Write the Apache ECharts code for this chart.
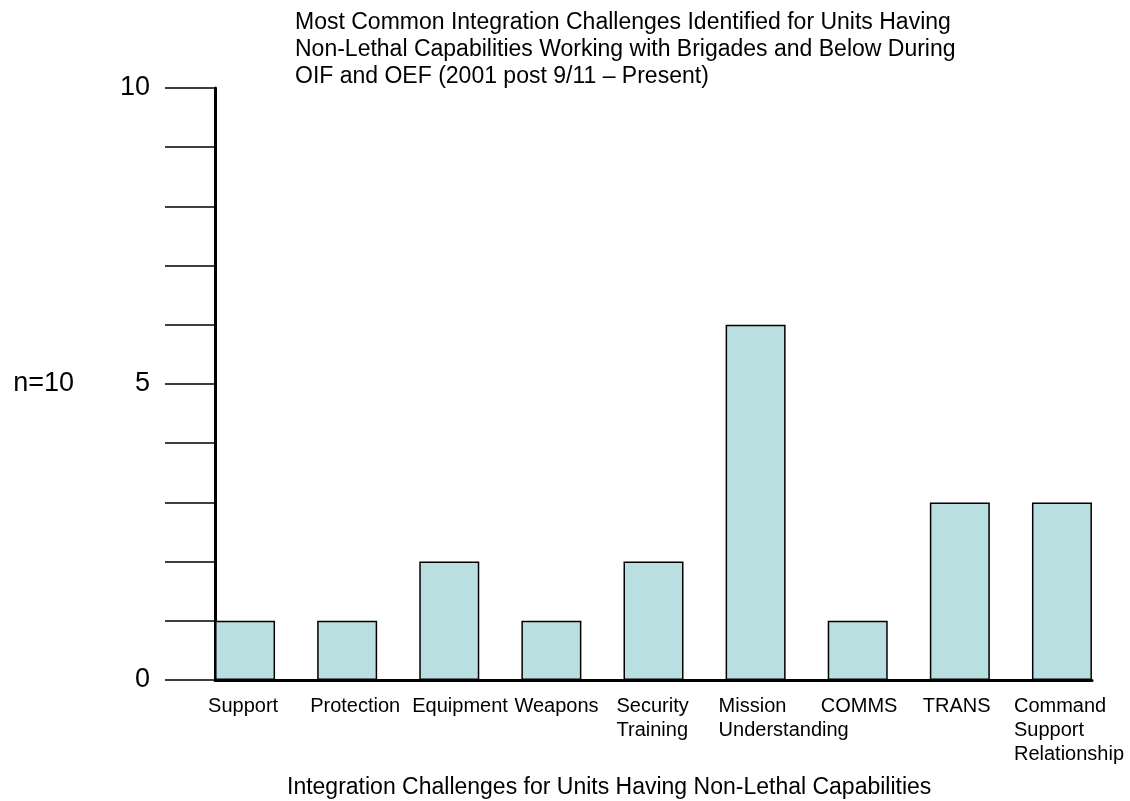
<!DOCTYPE html>
<html><head><meta charset="utf-8">
<script src="https://cdn.jsdelivr.net/npm/echarts@6/dist/echarts.min.js"></script>
<style>html,body{margin:0;padding:0;background:#fff}#c{width:1130px;height:801px}</style>
</head><body><div id="c"></div>
<script>
var categories = ['Support','Protection','Equipment','Weapons','Security\nTraining','Mission\nUnderstanding','COMMS','TRANS','Command\nSupport\nRelationship'];
var values = [1,1,2,1,2,6,1,3,3];
var yTickLabels = {0:'0',5:'5',10:'10'};
var titleText = 'Most Common Integration Challenges Identified for Units Having\nNon-Lethal Capabilities Working with Brigades and Below During\nOIF and OEF (2001 post 9/11 \u2013 Present)';
var xName = 'Integration Challenges for Units Having Non-Lethal Capabilities';
var yName = 'n=10';

var font = '"Liberation Sans", Arial, sans-serif';
var catData = categories.map(function(c, i){
  return i === categories.length - 1 ? {value:c, textStyle:{width:96}} : c;
});
var chart = echarts.init(document.getElementById('c'));
chart.setOption({
  backgroundColor:'#fff',
  animation:false,
  textStyle:{fontFamily:font,color:'#000'},
  title:[
    {text:titleText,left:295,top:9,padding:0,textStyle:{fontFamily:font,fontSize:23,fontWeight:'normal',lineHeight:27,color:'#000'}},
    {text:xName,left:287,top:776,padding:0,textStyle:{fontFamily:font,fontSize:23,fontWeight:'normal',color:'#000'}}
  ],
  grid:[
    {left:194,width:919,top:88,height:592,containLabel:false,outerBoundsMode:'none'},
    {left:215,width:877,top:88,height:592,containLabel:false,outerBoundsMode:'none'}
  ],
  xAxis:[
    {type:'category',gridIndex:0,data:catData,
     axisLine:{show:false},axisTick:{show:false},
     axisLabel:{interval:0,margin:14,width:74,overflow:'none',align:'center',hideOverlap:false,
       formatter:function(v){return v.split('\n').map(function(s){return '{a|'+s+'}';}).join('\n');},
       rich:{a:{align:'left',fontFamily:font,fontSize:20,lineHeight:24,color:'#000'}}}},
    {type:'value',gridIndex:1,min:0,max:1,
     axisLine:{show:true,lineStyle:{color:'#000',width:3}},axisTick:{show:false},axisLabel:{show:false},splitLine:{show:false}}
  ],
  yAxis:[
    {type:'value',gridIndex:0,min:0,max:10,interval:1,show:false,splitLine:{show:false}},
    {type:'value',gridIndex:1,min:0,max:10,interval:1,
     name:yName,nameLocation:'middle',nameRotate:0,nameGap:141,nameMoveOverlap:false,
     nameTextStyle:{fontFamily:font,fontSize:27,color:'#000',align:'right',verticalAlign:'middle',padding:[0,0,12,0]},
     axisLine:{show:true,lineStyle:{color:'#000',width:3}},
     axisTick:{show:true,inside:false,length:50,lineStyle:{color:'#000',width:1.5}},
     axisLabel:{margin:65,fontFamily:font,fontSize:27,color:'#000',formatter:function(v){return yTickLabels[v]||'';}},
     splitLine:{show:false}}
  ],
  series:[{
    type:'bar',xAxisIndex:0,yAxisIndex:0,data:values,barWidth:60,
    itemStyle:{color:'#badfe1',borderColor:'#000',borderWidth:1.5}
  }]
});
</script></body></html>
